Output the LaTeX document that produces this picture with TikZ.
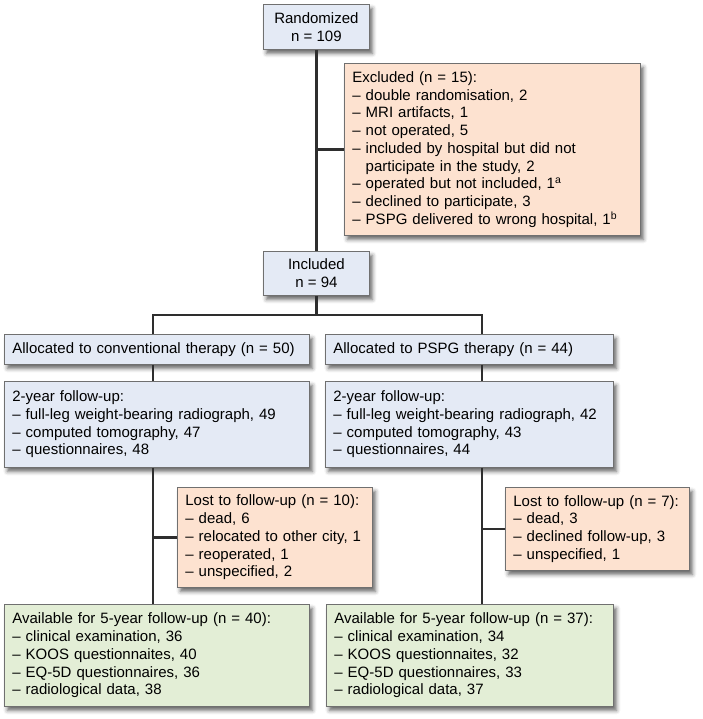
\documentclass[tikz,border=0pt]{standalone}
\usepackage{fontspec}
\setmainfont{Liberation Sans}
\usetikzlibrary{shadows.blur}

\definecolor{boxblue}{HTML}{E4EAF5}
\definecolor{boxpeach}{HTML}{FDE2D0}
\definecolor{boxgreen}{HTML}{E3EED6}
\definecolor{framegray}{HTML}{707070}
\definecolor{linedark}{HTML}{2E2E2E}

\begin{document}
\begin{tikzpicture}[x=1pt, y=-1pt,
    box/.style={draw=framegray, line width=0.8pt, anchor=north west,
        inner xsep=8pt, inner ysep=0pt, align=left,
        font=\fontsize{15}{17.75}\selectfont,
        blur shadow={shadow xshift=3pt, shadow yshift=-4pt,
            shadow blur radius=4pt, shadow opacity=60}},
    bluebox/.style={box, fill=boxblue},
    peachbox/.style={box, fill=boxpeach},
    greenbox/.style={box, fill=boxgreen},
    link/.style={draw=linedark, line width=2.8pt}]

    % Khung hình (pixel coordinates, y goes down)
    \useasboundingbox (0,0) rectangle (702,719);

    % Top: randomized / excluded / included
    \node[bluebox, align=center, minimum width=106pt, minimum height=45pt]
        (rand) at (263,4) {Randomized\\n = 109};
    \node[peachbox, text width=280pt, minimum height=172pt] (excl) at (344,63)
        {Excluded (n = 15):\\
         – double randomisation, 2\\
         – MRI artifacts, 1\\
         – not operated, 5\\
         – included by hospital but did not\\
         \phantom{– }participate in the study, 2\\
         – operated but not included, 1\textsuperscript{a}\\
         – declined to participate, 3\\
         – PSPG delivered to wrong hospital, 1\textsuperscript{b}};
    \node[bluebox, align=center, minimum width=106pt, minimum height=44pt]
        (incl) at (263,251) {Included\\n = 94};

    % Allocation
    \node[bluebox, text width=289pt, minimum height=30pt] (allocL) at (4,334)
        {Allocated to conventional therapy (n = 50)};
    \node[bluebox, text width=272pt, minimum height=30pt] (allocR) at (325,334)
        {Allocated to PSPG therapy (n = 44)};

    % 2-year follow-up
    \node[bluebox, text width=289pt, minimum height=86pt] (twoL) at (4,381)
        {2-year follow-up:\\
         – full-leg weight-bearing radiograph, 49\\
         – computed tomography, 47\\
         – questionnaires, 48};
    \node[bluebox, text width=272pt, minimum height=86pt] (twoR) at (325,381)
        {2-year follow-up:\\
         – full-leg weight-bearing radiograph, 42\\
         – computed tomography, 43\\
         – questionnaires, 44};

    % Lost to follow-up
    \node[peachbox, text width=179pt, minimum height=100pt] (lostL) at (177,487)
        {Lost to follow-up (n = 10):\\
         – dead, 6\\
         – relocated to other city, 1\\
         – reoperated, 1\\
         – unspecified, 2};
    \node[peachbox, text width=168pt, minimum height=83pt] (lostR) at (505,487)
        {Lost to follow-up (n = 7):\\
         – dead, 3\\
         – declined follow-up, 3\\
         – unspecified, 1};

    % 5-year follow-up
    \node[greenbox, text width=289pt, minimum height=102pt] (fiveL) at (4,604)
        {Available for 5-year follow-up (n = 40):\\
         – clinical examination, 36\\
         – KOOS questionnaites, 40\\
         – EQ-5D questionnaires, 36\\
         – radiological data, 38};
    \node[greenbox, text width=271pt, minimum height=102pt] (fiveR) at (326,604)
        {Available for 5-year follow-up (n = 37):\\
         – clinical examination, 34\\
         – KOOS questionnaites, 32\\
         – EQ-5D questionnaires, 33\\
         – radiological data, 37};

    % Đường nối
    \coordinate (barL) at (153,315);
    \coordinate (barR) at (482,315);

    \draw[link] (rand.south) -- (incl.north);
    \draw[link] (excl.west) -- (excl.west -| rand.south);
    \draw[link] (incl.south) -- (incl.south |- barL);
    \draw[link] (allocL.north -| barL) -- (barL) -- (barR) -- (allocR.north -| barR);

    \draw[link] (allocL.south -| barL) -- (twoL.north -| barL);
    \draw[link] (allocR.south -| barR) -- (twoR.north -| barR);
    \draw[link] (twoL.south -| barL) -- (fiveL.north -| barL);
    \draw[link] (twoR.south -| barR) -- (fiveR.north -| barR);
    \draw[link] (lostL.west) -- (lostL.west -| barL);
    \draw[link] (lostR.west) -- (lostR.west -| barR);

\end{tikzpicture}
\end{document}
